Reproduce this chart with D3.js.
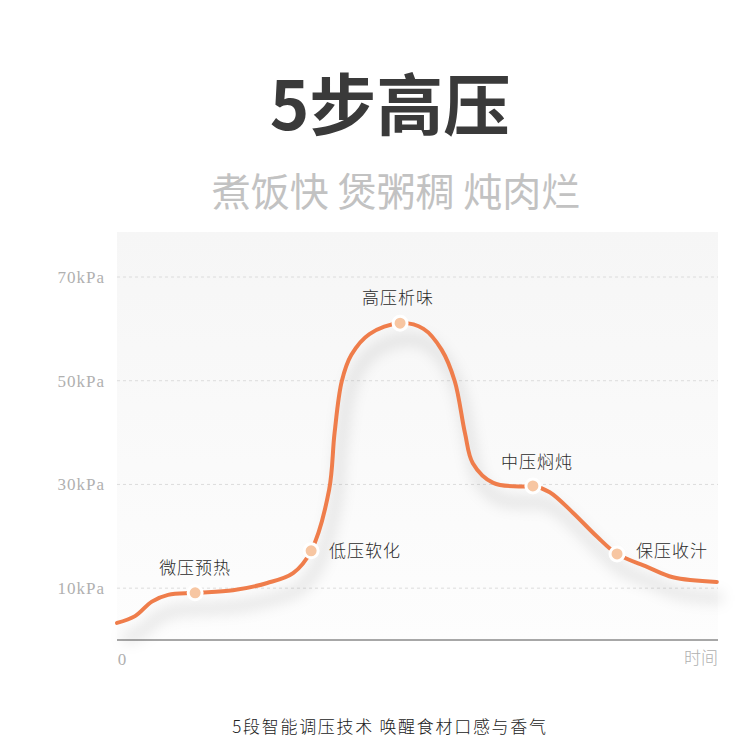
<!DOCTYPE html>
<html><head><meta charset="utf-8">
<script src="https://cdn.jsdelivr.net/npm/d3@7/dist/d3.min.js"></script>
<style>
html,body{margin:0;padding:0;background:#fff;}
svg{display:block;}
</style></head>
<body>
<svg id="chart" width="750" height="750"></svg>
<script>
// ---- data ----
const title = "5步高压";
const subtitle = "煮饭快 煲粥稠 炖肉烂";
const caption = "5段智能调压技术 唤醒食材口感与香气";
const times =    [0,  3.0, 5.8, 8.5, 13,  19.3, 25,  29.3, 32.3, 35.3, 36.2, 37.4, 39,   42,   47.1, 51,   54,   56.2, 57.9, 59.2, 62.6, 67.6, 69.2, 72,   75.9, 79.9, 83.2, 88.2, 92.5, 99.8];
const pressure = [3.3,4.6, 7.4, 8.7, 9.1, 9.6,  11.0,12.9,17.2, 29.0, 39.9, 49.9, 55.0, 59.0, 61.1, 60.0, 56.0, 49.9, 39.9, 34.1, 30.3, 29.6, 29.7, 28.5, 24.5, 19.9, 16.6, 14.1, 12.1, 11.2];
const stageNames = ["微压预热","低压软化","高压析味","中压焖炖","保压收汁"];
const stageTimes = [13, 32.3, 47.1, 69.2, 83.2];
const stageValues = [9.1, 17.2, 61.1, 29.7, 16.6];
const yTicks = [10, 30, 50, 70];
const yTickLabels = ["10kPa","30kPa","50kPa","70kPa"];
const xStartLabel = "0";
const xEndLabel = "时间";

(function(){
// ---- layout ----
const svg = d3.select("#chart");
const pL = 117, pR = 718, pT = 232, pB = 640;
const x = d3.scaleLinear().domain([0, 100]).range([pL, pR]);
const y = d3.scaleLinear().domain([0, 70]).range([pB, 277]);

const defs = svg.append("defs");
const grad = defs.append("linearGradient").attr("id","bg").attr("x1",0).attr("y1",0).attr("x2",0).attr("y2",1);
grad.append("stop").attr("offset","0%").attr("stop-color","#f6f6f6");
grad.append("stop").attr("offset","100%").attr("stop-color","#fdfdfd");
const f = defs.append("filter").attr("id","shadow").attr("x","-20%").attr("y","-20%").attr("width","140%").attr("height","140%");
f.append("feGaussianBlur").attr("stdDeviation",7);

// titles
svg.append("text").attr("x",390).attr("y",130).attr("text-anchor","middle")
  .attr("font-family","'Noto Sans CJK SC', 'Noto Sans', sans-serif").attr("font-weight",700)
  .attr("font-size",67).attr("fill","#3a3a3a").text(title);
svg.append("text").attr("x",396).attr("y",206).attr("text-anchor","middle")
  .attr("font-family","'Noto Sans CJK SC', sans-serif").attr("font-weight",400)
  .attr("font-size",39).attr("fill","#c2c2c2").text(subtitle);

// panel
svg.append("rect").attr("x",pL).attr("y",pT).attr("width",pR-pL).attr("height",pB-pT).attr("fill","url(#bg)");

// grid
svg.append("g").selectAll("line").data(yTicks).join("line")
  .attr("x1",pL).attr("x2",pR).attr("y1",d=>y(d)).attr("y2",d=>y(d))
  .attr("stroke","#dcdcdc").attr("stroke-width",1).attr("stroke-dasharray","3,3");
svg.append("g").selectAll("text").data(yTicks).join("text")
  .attr("x",105).attr("y",d=>y(d)+6).attr("text-anchor","end")
  .attr("font-family","'Liberation Serif', 'DejaVu Serif', serif").attr("font-size",17)
  .attr("letter-spacing",1).attr("fill","#b0b0b0").text((d,i)=>yTickLabels[i]);

// axis
svg.append("line").attr("x1",pL).attr("x2",pR).attr("y1",pB).attr("y2",pB)
  .attr("stroke","#8a8a8a").attr("stroke-width",1.5);
svg.append("text").attr("x",x(0)+5).attr("y",pB+25).attr("text-anchor","middle")
  .attr("font-family","'Liberation Serif', serif").attr("font-size",17).attr("fill","#b0b0b0").text(xStartLabel);
svg.append("text").attr("x",pR).attr("y",pB+24).attr("text-anchor","end")
  .attr("font-family","'Noto Sans CJK SC', sans-serif").attr("font-weight",300).attr("font-size",17).attr("fill","#b0b0b0").text(xEndLabel);

// curve
const pts = times.map((t,i)=>[t, pressure[i]]);
const line = d3.line().x(d=>x(d[0])).y(d=>y(d[1])).curve(d3.curveCatmullRom.alpha(0.5));
svg.append("path").attr("d",line(pts)).attr("fill","none").attr("stroke","#000").attr("stroke-opacity",0.10)
  .attr("stroke-width",10).attr("transform","translate(6,16)").attr("filter","url(#shadow)");
svg.append("path").attr("d",line(pts)).attr("fill","none").attr("stroke","#ef7d4b")
  .attr("stroke-width",4).attr("stroke-linecap","round");

// markers
svg.append("g").selectAll("circle").data(stageTimes).join("circle")
  .attr("cx",d=>x(d)).attr("cy",(d,i)=>y(stageValues[i])).attr("r",7)
  .attr("fill","#f7c6a2").attr("stroke","#fff").attr("stroke-width",3);

// stage labels
const labelPos = [
  {dx:0, dy:-19, anchor:"middle"},
  {dx:18, dy:6, anchor:"start"},
  {dx:-2, dy:-19, anchor:"middle"},
  {dx:4, dy:-18, anchor:"middle"},
  {dx:19, dy:3, anchor:"start"}
];
svg.append("g").selectAll("text").data(stageNames).join("text")
  .attr("x",(d,i)=>x(stageTimes[i])+labelPos[i].dx)
  .attr("y",(d,i)=>y(stageValues[i])+labelPos[i].dy)
  .attr("text-anchor",(d,i)=>labelPos[i].anchor)
  .attr("font-family","'Noto Sans CJK SC', sans-serif").attr("font-weight",300)
  .attr("font-size",17).attr("fill","#2a2a2a").attr("letter-spacing",1).text(d=>d);

// caption
svg.append("text").attr("x",390).attr("y",733).attr("text-anchor","middle")
  .attr("font-family","'Noto Sans CJK SC', sans-serif").attr("font-weight",300)
  .attr("font-size",17).attr("letter-spacing",1.7).attr("fill","#222").text(caption);
})();
</script>
</body></html>
